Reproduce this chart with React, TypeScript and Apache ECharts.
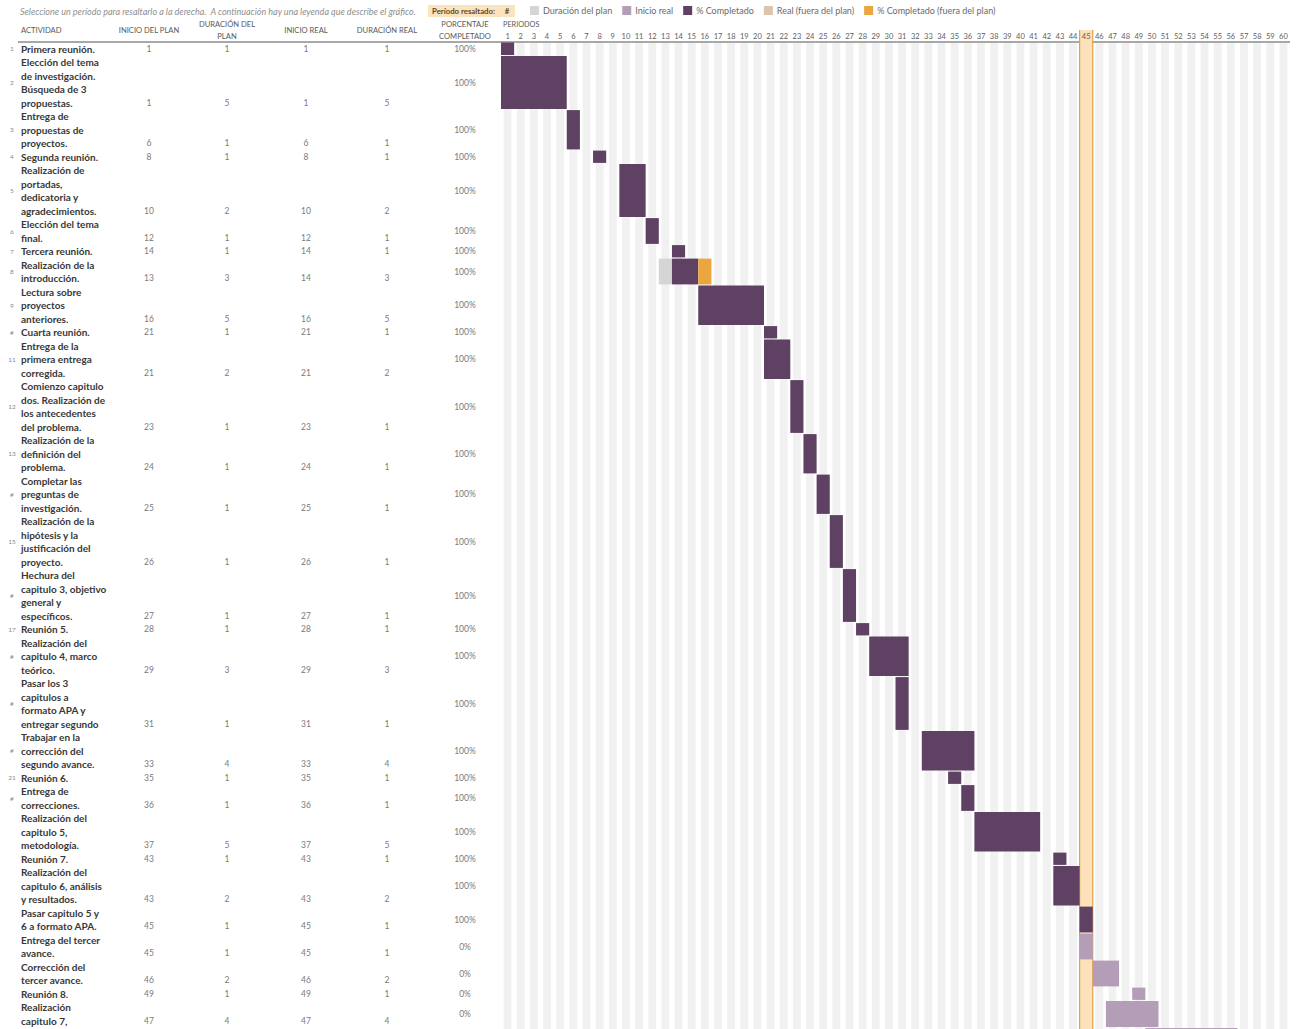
import React, { useEffect, useRef } from "react";
import * as echarts from "echarts";

// ---------------- DATA ----------------
const activities: string[] = [
  "Primera reunión.",
  "Elección del tema\nde investigación.\nBúsqueda de 3\npropuestas.",
  "Entrega de\npropuestas de\nproyectos.",
  "Segunda reunión.",
  "Realización de\nportadas,\ndedicatoria y\nagradecimientos.",
  "Elección del tema\nfinal.",
  "Tercera reunión.",
  "Realización de la\nintroducción.",
  "Lectura sobre\nproyectos\nanteriores.",
  "Cuarta reunión.",
  "Entrega de la\nprimera entrega\ncorregida.",
  "Comienzo capitulo\ndos. Realización de\nlos antecedentes\ndel problema.",
  "Realización de la\ndefinición del\nproblema.",
  "Completar las\npreguntas de\ninvestigación.",
  "Realización de la\nhipótesis y la\njustificación del\nproyecto.",
  "Hechura del\ncapitulo 3, objetivo\ngeneral y\nespecíficos.",
  "Reunión 5.",
  "Realización del\ncapitulo 4, marco\nteórico.",
  "Pasar los 3\ncapitulos a\nformato APA y\nentregar segundo",
  "Trabajar en la\ncorrección del\nsegundo avance.",
  "Reunión 6.",
  "Entrega de\ncorrecciones.",
  "Realización del\ncapitulo 5,\nmetodología.",
  "Reunión 7.",
  "Realización del\ncapitulo 6, análisis\ny resultados.",
  "Pasar capitulo 5 y\n6 a formato APA.",
  "Entrega del tercer\navance.",
  "Corrección del\ntercer avance.",
  "Reunión 8.",
  "Realización\ncapitulo 7,",
  "\n",
];
const indexLabels: string[] = [
  "1", "2", "3", "4", "5", "6", "7", "8", "9", "#", "11", "12", "13", "#", "15", "#",
  "17", "#", "#", "#", "21", "#", "", "", "", "", "", "", "", "", "",
];
const planStart: number[] = [1, 1, 6, 8, 10, 12, 14, 13, 16, 21, 21, 23, 24, 25, 26, 27, 28, 29, 31, 33, 35, 36, 37, 43, 43, 45, 45, 46, 49, 47, 50];
const planDur: number[] = [1, 5, 1, 1, 2, 1, 1, 3, 5, 1, 2, 1, 1, 1, 1, 1, 1, 3, 1, 4, 1, 1, 5, 1, 2, 1, 1, 2, 1, 4, 7];
const realStart: number[] = [1, 1, 6, 8, 10, 12, 14, 14, 16, 21, 21, 23, 24, 25, 26, 27, 28, 29, 31, 33, 35, 36, 37, 43, 43, 45, 45, 46, 49, 47, 50];
const realDur: number[] = [1, 5, 1, 1, 2, 1, 1, 3, 5, 1, 2, 1, 1, 1, 1, 1, 1, 3, 1, 4, 1, 1, 5, 1, 2, 1, 1, 2, 1, 4, 7];
const pctComplete: number[] = [100, 100, 100, 100, 100, 100, 100, 100, 100, 100, 100, 100, 100, 100, 100, 100, 100, 100, 100, 100, 100, 100, 100, 100, 100, 100, 0, 0, 0, 0, 0];
const periodLabels: string[] = [
  "1", "2", "3", "4", "5", "6", "7", "8", "9", "10", "11", "12", "13", "14", "15", "16", "17", "18", "19", "20",
  "21", "22", "23", "24", "25", "26", "27", "28", "29", "30", "31", "32", "33", "34", "35", "36", "37", "38", "39", "40",
  "41", "42", "43", "44", "45", "46", "47", "48", "49", "50", "51", "52", "53", "54", "55", "56", "57", "58", "59", "60",
];
const highlightedPeriod = 45;
const headerLabels: string[] = ["ACTIVIDAD", "INICIO DEL PLAN", "DURACIÓN DEL\nPLAN", "INICIO REAL", "DURACIÓN REAL", "PORCENTAJE\nCOMPLETADO"];
const legendNames: string[] = ["Duración del plan", "Inicio real", "% Completado", "Real (fuera del plan)", "% Completado (fuera del plan)"];
const instructionText = "Seleccione un período para resaltarlo a la derecha.  A continuación hay una leyenda que describe el gráfico.";
const highlightLabel = "Período resaltado:";
const periodsTitle = "PERIODOS";

// ---------------- LAYOUT / STYLE ----------------
const W = 1297;
const H = 1029;
const TOP = 42;
const LINE_PX = 13.5;
const Y_MAX = (H - TOP) / LINE_PX;
const GANTT_LEFT = 501;
const GANTT_RIGHT = 7;
const FONT = "Lato, 'Open Sans', sans-serif";
const COL_INDEX_X = 12;
const COL_TEXT_X = 21;
const COL_CENTERS = [149, 227, 306, 387, 465];
const legendColors = ["#d5d5d5", "#b39db7", "#5f4163", "#dcc4ad", "#eca640"];

// ---------------- HELPERS ----------------
const lineCounts = activities.map((a) => a.split("\n").length);
const startLines: number[] = [];
lineCounts.reduce((acc, n, i) => {
  startLines[i] = acc;
  return acc + n;
}, 0);

type Seg = [number, number, number, number]; // startIdx, endIdx, startLine, nLines
function buildSegments(): Seg[][] {
  const out: Seg[][] = legendNames.map(() => []);
  activities.forEach((_, i) => {
    const ps = planStart[i];
    const pe = ps + planDur[i] - 1;
    const as = realStart[i];
    const ae = as + realDur[i] - 1;
    const doneEnd = as + Math.round((realDur[i] * pctComplete[i]) / 100) - 1;
    const lo = Math.min(ps, as);
    const hi = Math.max(pe, ae);
    let curType = -1;
    let curStart = lo;
    const flush = (endP: number) => {
      if (curType >= 0) out[curType].push([curStart - 1, endP - 1, startLines[i], lineCounts[i]]);
    };
    for (let p = lo; p <= hi; p++) {
      const inPlan = p >= ps && p <= pe;
      const inReal = p >= as && p <= ae;
      const done = inReal && p <= doneEnd;
      const t = inReal ? (inPlan ? (done ? 2 : 1) : done ? 4 : 3) : inPlan ? 0 : -1;
      if (t !== curType) {
        flush(p - 1);
        curType = t;
        curStart = p;
      }
    }
    flush(hi);
  });
  return out;
}

export default function App() {
  const ref = useRef<HTMLDivElement>(null);
  useEffect(() => {
    if (!ref.current) return;
    const chart = echarts.init(ref.current, undefined, { renderer: "svg" });
    const segs = buildSegments();

    const barSeries = legendNames.map((name, k) => ({
      name,
      type: "custom",
      xAxisIndex: 1,
      yAxisIndex: 1,
      z: 5,
      clip: true,
      itemStyle: { color: legendColors[k] },
      encode: { x: [0, 1], y: [2] },
      data: segs[k],
      renderItem: (params: any, api: any) => {
        const s = api.value(0);
        const e = api.value(1);
        const sl = api.value(2);
        const n = api.value(3);
        const bw = api.size([1, 0])[0];
        const x0 = api.coord([s, sl])[0] - bw / 2;
        const x1 = api.coord([e, sl])[0] + bw / 2;
        const y0 = api.coord([s, sl])[1] + 0.6;
        const y1 = api.coord([s, sl + n])[1] - 0.6;
        return {
          type: "rect",
          shape: { x: x0, y: y0, width: x1 - x0, height: y1 - y0 },
          style: { fill: legendColors[k] },
        };
      },
    }));

    const stripeSeries = {
      type: "custom",
      xAxisIndex: 1,
      yAxisIndex: 1,
      z: 1,
      silent: true,
      encode: { x: [0] },
      data: periodLabels.map((_, i) => [i]),
      renderItem: (params: any, api: any) => {
        const i = api.value(0);
        const bw = api.size([1, 0])[0];
        const cx = api.coord([i, 0])[0];
        const y0 = api.coord([i, 0])[1];
        const y1 = api.coord([i, Y_MAX])[1];
        return {
          type: "rect",
          shape: { x: cx - bw * 0.3, y: y0 + 1, width: bw * 0.6, height: y1 - y0 },
          style: { fill: "#f1f1f1" },
        };
      },
    };

    const highlightSeries = {
      type: "custom",
      xAxisIndex: 1,
      yAxisIndex: 1,
      z: 2,
      silent: true,
      clip: false,
      encode: { x: [0] },
      data: [[highlightedPeriod - 1]],
      renderItem: (params: any, api: any) => {
        const i = api.value(0);
        const bw = api.size([1, 0])[0];
        const cx = api.coord([i, 0])[0];
        const y0 = api.coord([i, 0])[1] - 12;
        const y1 = api.coord([i, Y_MAX])[1];
        return {
          type: "group",
          children: [
            { type: "rect", shape: { x: cx - bw / 2, y: y0, width: bw, height: y1 - y0 }, style: { fill: "#fce1ba" } },
            { type: "line", shape: { x1: cx - bw / 2, y1: y0, x2: cx - bw / 2, y2: y1 }, style: { stroke: "#e3a048", lineWidth: 1.2 } },
            { type: "line", shape: { x1: cx + bw / 2, y1: y0, x2: cx + bw / 2, y2: y1 }, style: { stroke: "#e3a048", lineWidth: 1.2 } },
          ],
        };
      },
    };

    const tableSeries = {
      type: "custom",
      xAxisIndex: 0,
      yAxisIndex: 0,
      z: 3,
      silent: true,
      clip: false,
      encode: { y: [1] },
      data: activities.map((_, i) => [i, startLines[i], lineCounts[i]]),
      renderItem: (params: any, api: any) => {
        const i = api.value(0);
        const sl = api.value(1);
        const n = api.value(2);
        const top = api.coord([0, sl])[1];
        if (top > H - 10) return { type: "group", children: [] };
        const mid = api.coord([0, sl + n / 2])[1];
        const last = api.coord([0, sl + n - 0.5])[1];
        const X = (v: number) => api.coord([v, sl])[0];
        const nums = [planStart[i], planDur[i], realStart[i], realDur[i]];
        const children: any[] = [
          {
            type: "text",
            style: { text: indexLabels[i], x: X(COL_INDEX_X), y: mid, align: "center", verticalAlign: "middle", fontSize: 6.5, fill: "#8a8a8a", fontFamily: FONT },
          },
          {
            type: "text",
            style: { text: activities[i], x: X(COL_TEXT_X), y: top, verticalAlign: "top", lineHeight: LINE_PX, fontSize: 10, fontWeight: "bold", fill: "#383838", fontFamily: FONT },
          },
        ];
        nums.forEach((v, k) => {
          children.push({
            type: "text",
            style: { text: String(v), x: X(COL_CENTERS[k]), y: last, align: "center", verticalAlign: "middle", fontSize: 8.5, fill: "#7a7a7a", fontFamily: FONT },
          });
        });
        children.push({
          type: "text",
          style: { text: pctComplete[i] + "%", x: X(COL_CENTERS[4]), y: mid, align: "center", verticalAlign: "middle", fontSize: 8.5, fill: "#7a7a7a", fontFamily: FONT },
        });
        return { type: "group", children };
      },
    };

    const headerGraphics: any[] = headerLabels.map((t, k) => ({
      type: "text",
      x: k === 0 ? COL_TEXT_X : COL_CENTERS[k - 1],
      y: 30,
      style: {
        text: t,
        align: k === 0 ? "left" : "center",
        verticalAlign: "middle",
        lineHeight: 11.5,
        fontSize: 7.6,
        fill: "#5a5a5a",
        fontFamily: FONT,
      },
    }));

    chart.setOption({
      animation: false,
      backgroundColor: "#ffffff",
      textStyle: { fontFamily: FONT },
      grid: [
        { left: 0, top: TOP, width: GANTT_LEFT - 1, bottom: 0 },
        { left: GANTT_LEFT, top: TOP, right: GANTT_RIGHT, bottom: 0 },
      ],
      xAxis: [
        { type: "value", gridIndex: 0, min: 0, max: GANTT_LEFT - 1, show: false },
        {
          type: "category",
          gridIndex: 1,
          position: "top",
          z: 10,
          data: periodLabels,
          boundaryGap: true,
          axisLine: { show: false },
          axisTick: { show: false },
          splitLine: { show: false },
          axisLabel: { interval: 0, fontSize: 7.5, color: "#5e5e5e", margin: 2, fontFamily: FONT },
        },
      ],
      yAxis: [
        { type: "value", gridIndex: 0, min: 0, max: Y_MAX, inverse: true, show: false },
        { type: "value", gridIndex: 1, min: 0, max: Y_MAX, inverse: true, show: false },
      ],
      legend: {
        data: legendNames.map((n, k) => ({ name: n, icon: "rect", itemStyle: { color: legendColors[k] } })),
        left: 530,
        top: 6,
        itemWidth: 9,
        itemHeight: 9,
        itemGap: 10,
        padding: 0,
        selectedMode: false,
        textStyle: { fontSize: 9, color: "#6a6a6a", fontFamily: FONT, padding: [0, 0, 0, -1] },
      },
      graphic: [
        {
          type: "text",
          x: 20,
          y: 11,
          style: { text: instructionText, fontSize: 9, fontStyle: "italic", fill: "#8f8f8f", verticalAlign: "middle", fontFamily: FONT },
        },
        { type: "rect", x: 428, y: 5, shape: { width: 87, height: 12 }, style: { fill: "#fbe3bd" } },
        {
          type: "text",
          x: 432,
          y: 11,
          style: { text: highlightLabel, fontSize: 7.8, fontWeight: "bold", fill: "#5c4a2c", verticalAlign: "middle", fontFamily: FONT },
        },
        {
          type: "text",
          x: 507,
          y: 11,
          style: { text: "#", fontSize: 7.8, fontWeight: "bold", fill: "#5c4a2c", align: "center", verticalAlign: "middle", fontFamily: FONT },
        },
        {
          type: "text",
          x: 503,
          y: 24,
          style: { text: periodsTitle, fontSize: 7.3, fill: "#5a5a5a", verticalAlign: "middle", fontFamily: FONT },
        },
        ...headerGraphics,
        { type: "line", shape: { x1: 18, y1: TOP, x2: W - GANTT_RIGHT, y2: TOP }, style: { stroke: "#a8a8a8", lineWidth: 2 } },
      ],
      series: [stripeSeries, highlightSeries, ...barSeries, tableSeries],
    });
    return () => chart.dispose();
  }, []);
  return <div ref={ref} style={{ position: "absolute", left: 0, top: 0, width: W, height: H }} />;
}
